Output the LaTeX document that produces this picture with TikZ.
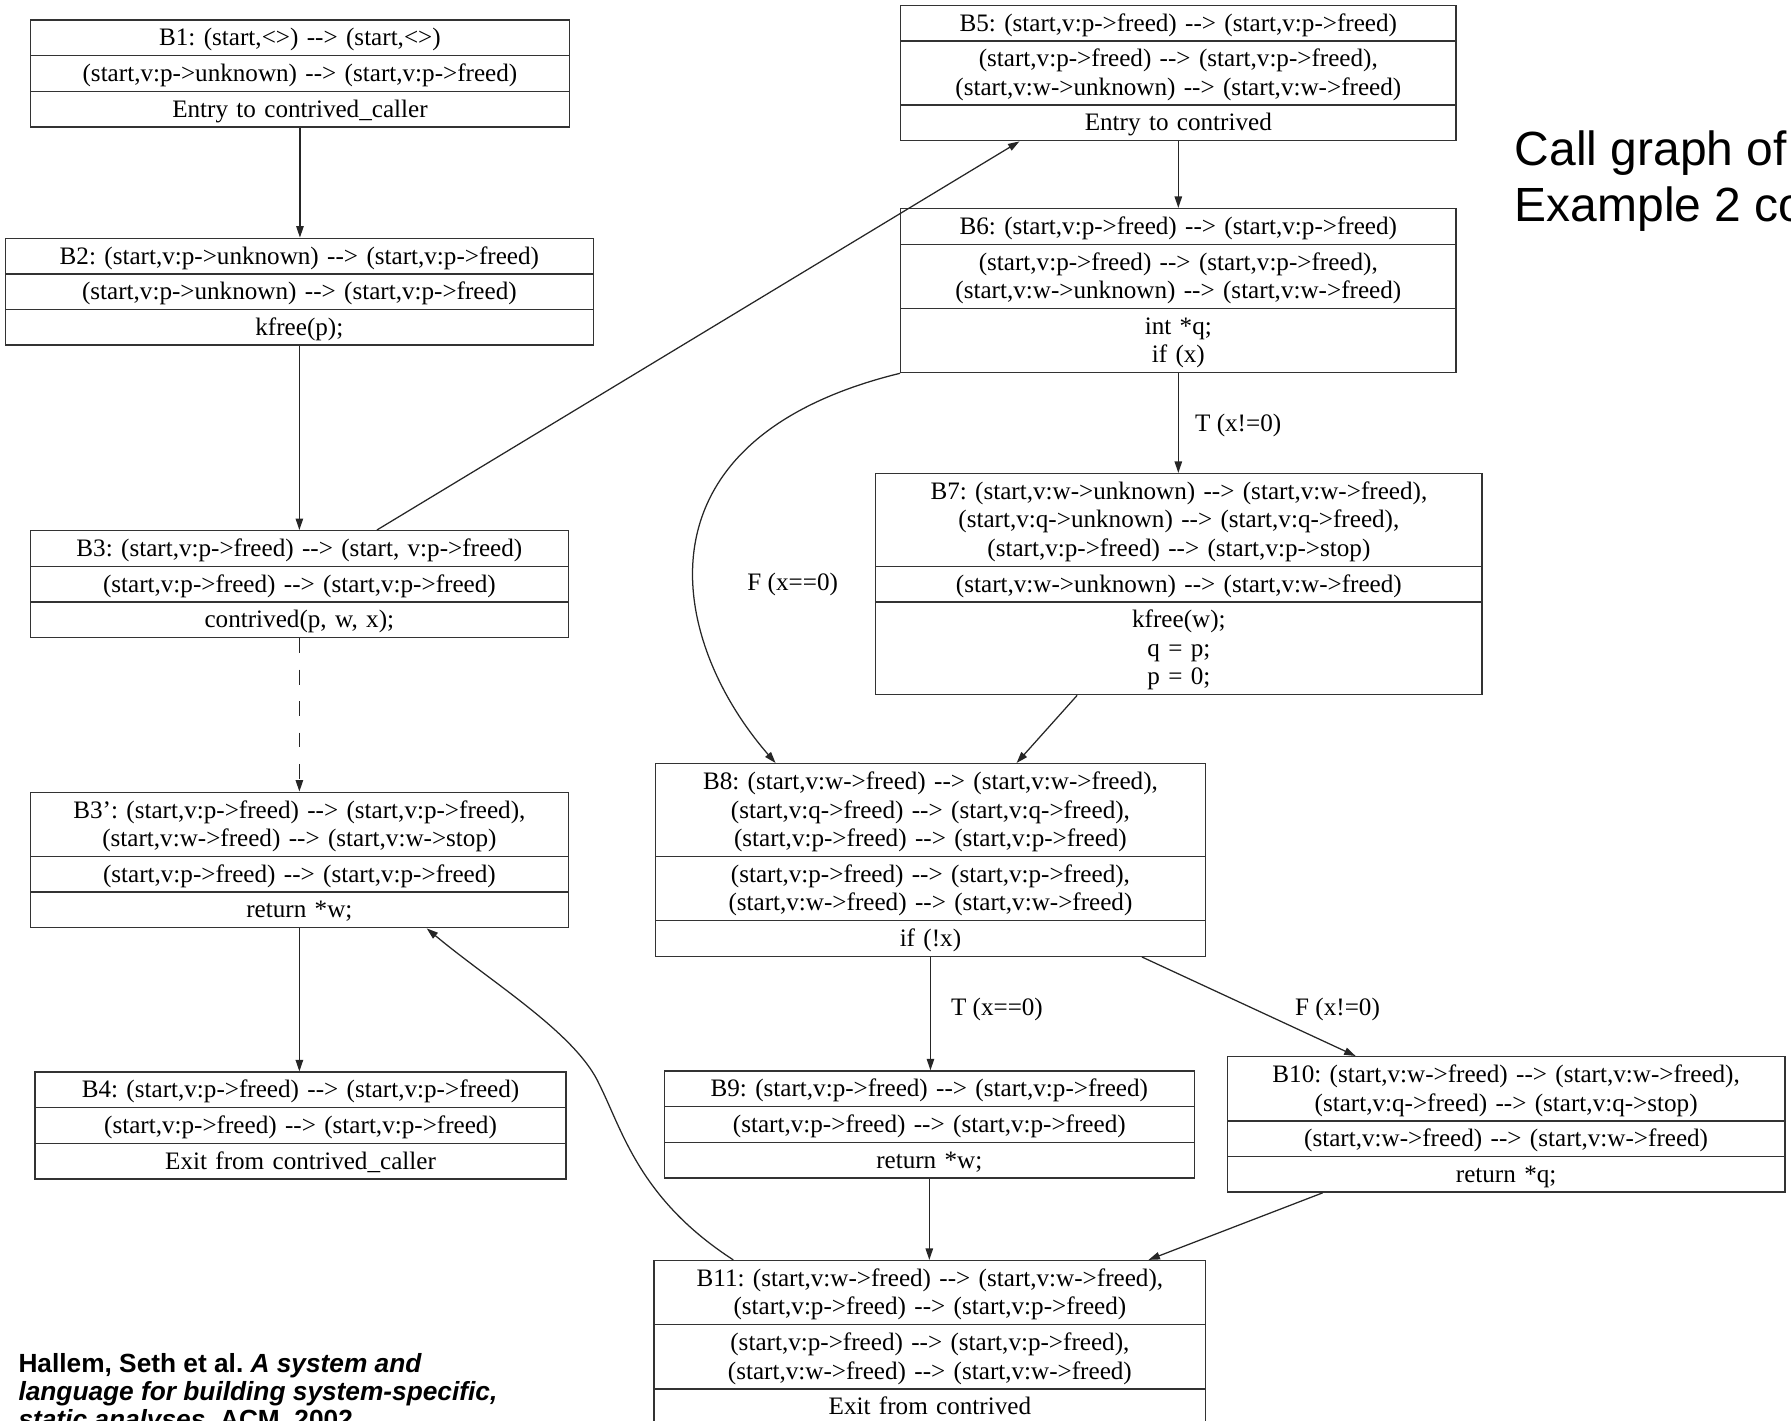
\documentclass[tikz,border=0pt]{standalone}
\usepackage{fontspec}
\setmainfont{Liberation Serif}
\newfontfamily\arialf{Liberation Sans}
\usetikzlibrary{shapes.multipart,arrows.meta,calc}
\newcommand\ar{-\kern0pt-\kern0pt>}
\newcommand\fz{\fontsize{22}{25}\selectfont\frenchspacing}
\newcommand\mystrut{\rule[-5.5pt]{0pt}{25pt}}
\newcommand\rowtxt[1]{\fz\mystrut#1\mystrut}
\begin{document}
\begin{tikzpicture}[x=1pt,y=-1pt,
  blk/.style={rectangle split, rectangle split parts=3, draw=black!80, line width=1.2pt,
    inner xsep=0pt, inner ysep=2.5pt, align=center, anchor=north west, font=\fz},
  edge/.style={draw=black!85, line width=1.1pt, -{Triangle[length=10pt,width=6.5pt]}},
  lbl/.style={font=\fz, inner sep=0pt},
  cite/.style={font=\arialf\bfseries\fontsize{23}{24.5}\selectfont\frenchspacing, inner sep=0pt, anchor=base west},
  ttl/.style={font=\arialf\fontsize{42}{49}\selectfont, inner sep=0pt, anchor=base west}]
\useasboundingbox (0,0) rectangle (1568,1244);
\clip (0,0) rectangle (1568,1244);

% blocks
\node[blk, text width=472pt] (b1) at (26,17)
 {\rowtxt{B1: (start,<>) \ar{} (start,<>)}
  \nodepart{two}\rowtxt{(start,v:p->unknown) \ar{} (start,v:p->freed)}
  \nodepart{three}\rowtxt{Entry to contrived\_caller}};
\node[blk, text width=515pt] (b2) at (4,208)
 {\rowtxt{B2: (start,v:p->unknown) \ar{} (start,v:p->freed)}
  \nodepart{two}\rowtxt{(start,v:p->unknown) \ar{} (start,v:p->freed)}
  \nodepart{three}\rowtxt{kfree(p);}};
\node[blk, text width=471pt] (b3) at (26,464)
 {\rowtxt{B3: (start,v:p->freed) \ar{} (start, v:p->freed)}
  \nodepart{two}\rowtxt{(start,v:p->freed) \ar{} (start,v:p->freed)}
  \nodepart{three}\rowtxt{contrived(p, w, x);}};
\node[blk, text width=471pt] (b3p) at (26,693)
 {\rowtxt{B3’: (start,v:p->freed) \ar{} (start,v:p->freed),\\(start,v:w->freed) \ar{} (start,v:w->stop)}
  \nodepart{two}\rowtxt{(start,v:p->freed) \ar{} (start,v:p->freed)}
  \nodepart{three}\rowtxt{return *w;}};
\node[blk, text width=465pt] (b4) at (30,938)
 {\rowtxt{B4: (start,v:p->freed) \ar{} (start,v:p->freed)}
  \nodepart{two}\rowtxt{(start,v:p->freed) \ar{} (start,v:p->freed)}
  \nodepart{three}\rowtxt{Exit from contrived\_caller}};
\node[blk, text width=486pt] (b5) at (788,4)
 {\rowtxt{B5: (start,v:p->freed) \ar{} (start,v:p->freed)}
  \nodepart{two}\rowtxt{(start,v:p->freed) \ar{} (start,v:p->freed),\\(start,v:w->unknown) \ar{} (start,v:w->freed)}
  \nodepart{three}\rowtxt{Entry to contrived}};
\node[blk, text width=486pt] (b6) at (788,182)
 {\rowtxt{B6: (start,v:p->freed) \ar{} (start,v:p->freed)}
  \nodepart{two}\rowtxt{(start,v:p->freed) \ar{} (start,v:p->freed),\\(start,v:w->unknown) \ar{} (start,v:w->freed)}
  \nodepart{three}\rowtxt{int *q;\\if (x)}};
\node[blk, text width=531pt] (b7) at (766,414)
 {\rowtxt{B7: (start,v:w->unknown) \ar{} (start,v:w->freed),\\(start,v:q->unknown) \ar{} (start,v:q->freed),\\(start,v:p->freed) \ar{} (start,v:p->stop)}
  \nodepart{two}\rowtxt{(start,v:w->unknown) \ar{} (start,v:w->freed)}
  \nodepart{three}\rowtxt{kfree(w);\\q = p;\\p = 0;}};
\node[blk, text width=482pt] (b8) at (573,668)
 {\rowtxt{B8: (start,v:w->freed) \ar{} (start,v:w->freed),\\(start,v:q->freed) \ar{} (start,v:q->freed),\\(start,v:p->freed) \ar{} (start,v:p->freed)}
  \nodepart{two}\rowtxt{(start,v:p->freed) \ar{} (start,v:p->freed),\\(start,v:w->freed) \ar{} (start,v:w->freed)}
  \nodepart{three}\rowtxt{if (!x)}};
\node[blk, text width=464pt] (b9) at (581,937)
 {\rowtxt{B9: (start,v:p->freed) \ar{} (start,v:p->freed)}
  \nodepart{two}\rowtxt{(start,v:p->freed) \ar{} (start,v:p->freed)}
  \nodepart{three}\rowtxt{return *w;}};
\node[blk, text width=488.4pt] (b10) at (1073.8,924.5)
 {\rowtxt{B10: (start,v:w->freed) \ar{} (start,v:w->freed),\\(start,v:q->freed) \ar{} (start,v:q->stop)}
  \nodepart{two}\rowtxt{(start,v:w->freed) \ar{} (start,v:w->freed)}
  \nodepart{three}\rowtxt{return *q;}};
\node[blk, text width=483pt] (b11) at (572,1103)
 {\rowtxt{B11: (start,v:w->freed) \ar{} (start,v:w->freed),\\(start,v:p->freed) \ar{} (start,v:p->freed)}
  \nodepart{two}\rowtxt{(start,v:p->freed) \ar{} (start,v:p->freed),\\(start,v:w->freed) \ar{} (start,v:w->freed)}
  \nodepart{three}\rowtxt{Exit from contrived}};

% edge labels
\node[lbl] (lt1) at (1084,372.7) {T (x!=0)};
\node[lbl] (lf1) at (694,512) {F (x==0)};
\node[lbl] (lt2) at (872.8,883.7) {T (x==0)};
\node[lbl] (lf2) at (1171,883.4) {F (x!=0)};

% edges
\draw[edge] (b1.south) -- (b1.south |- b2.north);
\draw[edge] (b2.south) -- (b2.south |- b3.north);
\draw[edge, dash pattern=on 13pt off 14.5pt] (b3.south) -- (b3.south |- b3p.north);
\draw[edge] (b3p.south) -- (b3p.south |- b4.north);
\draw[edge] ($(b3.north west)+(304,0)$) -- ($(b5.south west)+(104.5,0)$);
\draw[edge] (b5.south) -- (b5.south |- b6.north);
\draw[edge] (b6.south) -- (b6.south |- b7.north);
\draw[edge] (b6.south west) .. controls (550,385) and (585,560) .. ($(b8.north west)+(106,0)$);
\draw[edge] ($(b7.south west)+(177,0)$) -- ($(b8.north west)+(317,0)$);
\draw[edge] (b8.south) -- (b8.south |- b9.north);
\draw[edge] ($(b8.south west)+(426.7,0)$) -- ($(b10.north west)+(113,0)$);
\draw[edge] (b9.south) -- (b9.south |- b11.north);
\draw[edge] ($(b10.south west)+(84.2,0)$) -- ($(b11.north west)+(433.5,0)$);
\draw[edge] ($(b11.north west)+(70,0)$) .. controls (560,1050) and (545,990) .. (525,950)
  .. controls (505,905) and (430,860) .. ($(b3p.south west)+(347.6,0)$);

% title
\node[ttl] (t1) at (1326,144.5) {Call graph of};
\node[ttl] (t2) at (1326,193.5) {Example 2 co};

% citation
\node[cite] (c1) at (16,1201.8) {Hallem, Seth et al. \textit{A system and}};
\node[cite] (c2) at (16,1226.3) {\textit{language for building system-specific,}};
\node[cite] (c3) at (16,1250.8) {\textit{static analyses.} ACM, 2002};
\end{tikzpicture}
\end{document}
